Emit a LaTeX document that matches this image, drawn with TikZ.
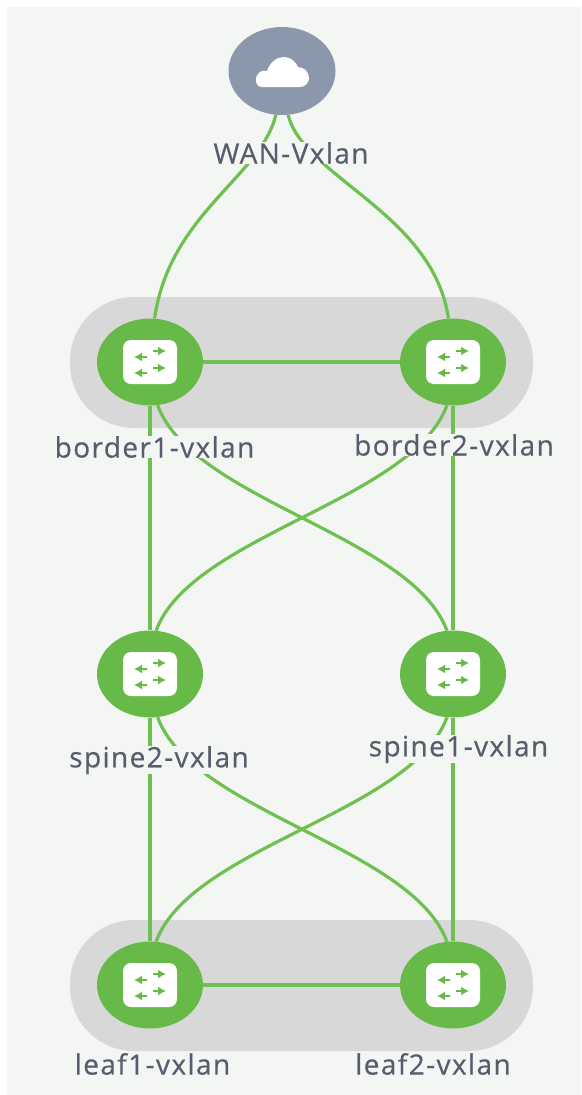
\documentclass[tikz,border=0pt]{standalone}
\usepackage{fontspec}
\setmainfont{Open Sans}[LetterSpace=5,FakeBold=0.5]
\usepackage{tikz}
\usetikzlibrary{positioning}
\usetikzlibrary{shapes.geometric}
\usetikzlibrary{arrows.meta}
\usetikzlibrary{calc}
\definecolor{panelColor}{RGB}{244,246,244}
\definecolor{groupColor}{RGB}{216,216,217}
\definecolor{linkColor}{RGB}{110,192,80}
\definecolor{deviceColor}{RGB}{104,186,72}
\definecolor{wanColor}{RGB}{139,151,171}
\definecolor{labelColor}{RGB}{88,92,108}
\tikzstyle{topology} = [x = 1pt, y = -1pt]
\tikzstyle{deviceStyle} = [ellipse, fill=deviceColor, minimum width=106pt, minimum height=87pt, inner sep=0pt]
\tikzstyle{wanStyle} = [ellipse, fill=wanColor, minimum width=107pt, minimum height=88pt, inner sep=0pt]
\tikzstyle{linkStyle} = [color=linkColor, line width=3.2pt]
\tikzstyle{groupStyle} = [fill=groupColor, rounded corners=64pt]
\tikzstyle{iconArrow} = [color=deviceColor, line width=1.8pt, -{Latex[length=8pt,width=9pt]}]
\tikzstyle{deviceLabel} = [fill=panelColor, text=labelColor, font=\fontsize{28pt}{30pt}\selectfont, inner xsep=0pt, inner ysep=0pt]
\newcommand{\switchIcon}[1]{
  \fill [white, rounded corners=8pt] ($(#1) + (-27,-22)$) rectangle ($(#1) + (27,22)$);
  \draw [iconArrow] ($(#1) + (-3,-5)$) -- +(-13,0);
  \draw [iconArrow] ($(#1) + (3,-11)$) -- +(13,0);
  \draw [iconArrow] ($(#1) + (-3,11)$) -- +(-13,0);
  \draw [iconArrow] ($(#1) + (3,6)$) -- +(13,0);
}
\begin{document}
\begin{tikzpicture}[topology]
  \useasboundingbox (0,0) rectangle (581,1095);
  \fill [white] (0,0) rectangle (581,1095);
  \fill [panelColor] (7,7) rectangle (581,1095);

  % groups
  \fill [groupStyle] (70,297) rectangle (533,428);
  \fill [groupStyle] (70,920) rectangle (533,1051);

  % devices
  \node [wanStyle] (wan) at (282,71) {};
  \node [deviceStyle] (border1) at (150,362) {};
  \node [deviceStyle] (border2) at (453,362) {};
  \node [deviceStyle] (spine2) at (150,674) {};
  \node [deviceStyle] (spine1) at (453,674) {};
  \node [deviceStyle] (leaf1) at (150,985) {};
  \node [deviceStyle] (leaf2) at (453,985) {};

  % links
  \draw [linkStyle] (wan.-98) .. controls +(-15,62) and +(15,-105) .. (border1.84);
  \draw [linkStyle] (wan.-82) .. controls +(15,62) and +(-15,-105) .. (border2.96);
  \draw [linkStyle] (border1) -- (border2);
  \draw [linkStyle] (leaf1) -- (leaf2);
  \draw [linkStyle] (border1) -- (spine2);
  \draw [linkStyle] (border2) -- (spine1);
  \draw [linkStyle] (spine2) -- (leaf1);
  \draw [linkStyle] (spine1) -- (leaf2);
  \draw [linkStyle] (border1.-80) .. controls +(35,95) and +(-35,-95) .. (spine1.98);
  \draw [linkStyle] (border2.-98) .. controls +(-35,95) and +(35,-95) .. (spine2.82);
  \draw [linkStyle] (spine2.-80) .. controls +(35,95) and +(-35,-95) .. (leaf2.98);
  \draw [linkStyle] (spine1.-98) .. controls +(-35,95) and +(35,-95) .. (leaf1.82);

  % icons
  \foreach \device in {border1,border2,spine2,spine1,leaf1,leaf2} {
    \switchIcon{\device}
  }
  \fill [white] (256,80) .. controls (256,73) and (262,69) .. (267,71)
    .. controls (270,62) and (277,57) .. (284,57)
    .. controls (291,57) and (296,62) .. (298,67)
    .. controls (304,67) and (309,72) .. (309,78)
    .. controls (309,83) and (305,87) .. (300,87)
    -- (262,87) .. controls (258,87) and (256,84) .. (256,80) -- cycle;

  % labels
  \node [deviceLabel] (wanLabel) at (291,153) {WAN-Vxlan};
  \node [deviceLabel] (border1Label) at (154.5,447) {border1-vxlan};
  \node [deviceLabel] (border2Label) at (454,445) {border2-vxlan};
  \node [deviceLabel] (spine2Label) at (159,760) {spine2-vxlan};
  \node [deviceLabel] (spine1Label) at (458.5,749) {spine1-vxlan};
  \node [deviceLabel] (leaf1Label) at (152.5,1064) {leaf1-vxlan};
  \node [deviceLabel] (leaf2Label) at (433,1064) {leaf2-vxlan};
\end{tikzpicture}
\end{document}
